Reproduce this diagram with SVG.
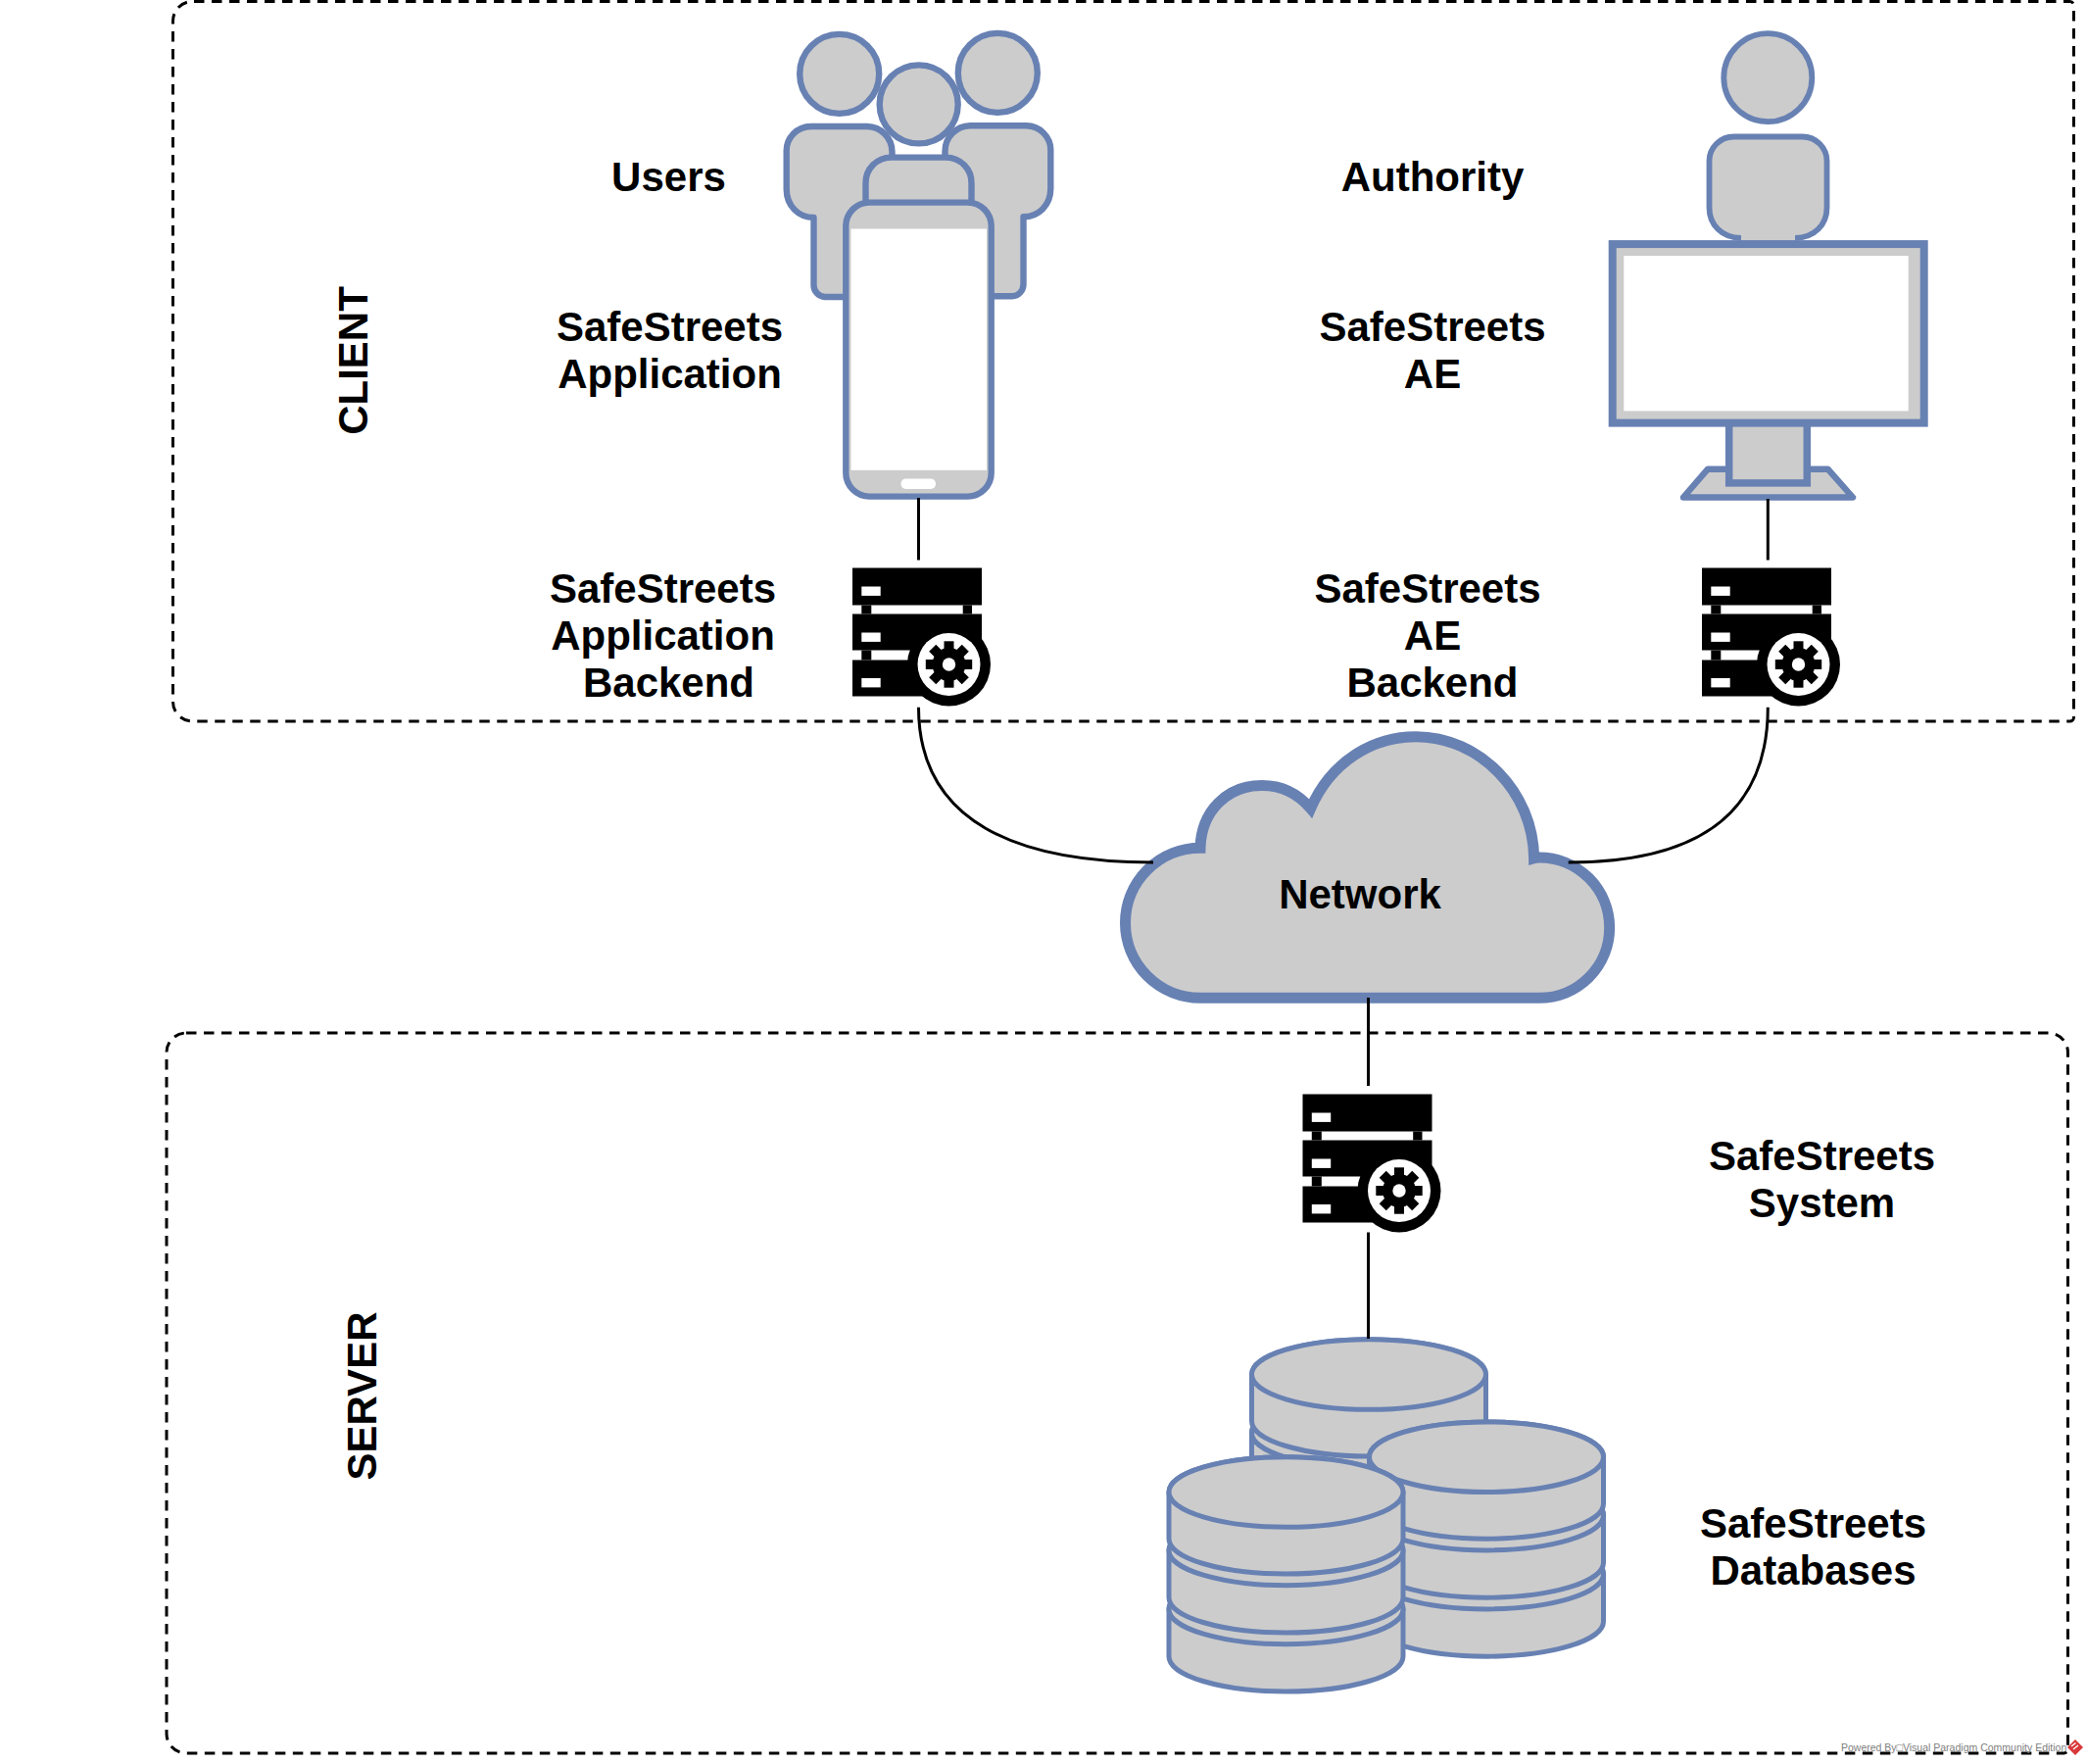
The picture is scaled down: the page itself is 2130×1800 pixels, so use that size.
<svg xmlns="http://www.w3.org/2000/svg" xmlns:xlink="http://www.w3.org/1999/xlink" width="2130" height="1800" viewBox="0 0 2130 1800">
<style>
text{font-family:"Liberation Sans",Arial,sans-serif;font-weight:bold;font-size:42px;fill:#000;text-anchor:middle}
.s{fill:#ccc;stroke:#6881b3;stroke-width:6.4;stroke-linejoin:round}
.m{fill:#ccc;stroke:#6881b3;stroke-linejoin:miter}
.d{fill:#ccc;stroke:#6881b3;stroke-width:5}
.w{fill:#fff}
.c{fill:none;stroke:#000;stroke-width:3}
.b{fill:none;stroke:#000;stroke-width:3;stroke-dasharray:10.5 7.5}
.wm{font-family:"Liberation Sans",Arial,sans-serif;font-weight:normal;font-size:10.5px;fill:#808080;text-anchor:start}
</style>
<defs>
<g id="srv">
<rect width="132" height="38"/><rect y="47" width="132" height="37"/><rect y="94" width="98" height="37"/>
<rect x="9.3" y="38" width="10" height="9"/><rect x="112.7" y="38" width="9.3" height="9"/><rect x="9.3" y="84" width="10" height="10"/>
<rect class="w" x="9.3" y="19" width="19.4" height="9.4"/><rect class="w" x="9.3" y="66" width="19.4" height="9.4"/><rect class="w" x="9.3" y="112.5" width="19.4" height="9.4"/>
<circle cx="98.5" cy="98.5" r="42.5"/><circle class="w" cx="98.5" cy="98.5" r="32"/>
<g transform="translate(98.5 98.5)">
<circle r="17"/>
<rect x="-5" y="-23.7" width="10" height="47.4"/>
<rect x="-5" y="-23.7" width="10" height="47.4" transform="rotate(45)"/>
<rect x="-5" y="-23.7" width="10" height="47.4" transform="rotate(90)"/>
<rect x="-5" y="-23.7" width="10" height="47.4" transform="rotate(135)"/>
<circle class="w" r="6.7"/>
</g>
</g>
<g id="db">
<path class="d" d="M-119.5 119.4A119.5 35.8 0 0 1 119.5 119.4V167.7A119.5 35.8 0 0 1 -119.5 167.7Z"/>
<ellipse class="d" cy="119.4" rx="119.5" ry="35.8"/>
<path class="d" d="M-119.5 59.4A119.5 35.8 0 0 1 119.5 59.4V107.7A119.5 35.8 0 0 1 -119.5 107.7Z"/>
<ellipse class="d" cy="59.4" rx="119.5" ry="35.8"/>
<path class="d" d="M-119.5 0A119.5 35.8 0 0 1 119.5 0V47.7A119.5 35.8 0 0 1 -119.5 47.7Z"/>
<ellipse class="d" rx="119.5" ry="35.8"/>
</g>
<path id="torso" class="s" d="M830.5 222C815 222 802.7 210 802.7 193V155A25 25 0 0 1 828 129H885A26 26 0 0 1 910.5 155V303H842A12 12 0 0 1 830.5 291Z"/>
</defs>

<g id="containers">
<path id="client" class="b" d="M198 1.5H2112.5A4 4 0 0 1 2116.5 5.5V732A4 4 0 0 1 2112.5 736H196.5A20 20 0 0 1 176.5 716V21.5A20 20 0 0 1 198 1.5Z"/>
<path id="server" class="b" d="M190 1054H2090.5A20 20 0 0 1 2110.5 1074V1785A4 4 0 0 1 2106.5 1789H190A20 20 0 0 1 170 1769V1074A20 20 0 0 1 190 1054Z"/>
</g>

<g id="users">
<use xlink:href="#torso" href="#torso"/>
<use xlink:href="#torso" href="#torso" transform="matrix(-1 0 0 1 1875 -0.7)"/>
<circle class="s" cx="856.7" cy="75.4" r="40.5"/>
<circle class="s" cx="1018.3" cy="74.4" r="40.5"/>
<path class="s" d="M883.5 212V187A26 26 0 0 1 909.5 160.6H965.5A26 26 0 0 1 991.5 187V212Z"/>
<circle class="s" cx="937.7" cy="106.4" r="40"/>
<text x="682.5" y="195">Users</text>
</g>

<g id="phone">
<rect class="s" x="863.3" y="206.6" width="148.4" height="300" rx="24"/>
<rect class="w" x="868.5" y="233.5" width="138.5" height="246.3"/>
<rect class="w" x="919.5" y="488.6" width="35.5" height="10.4" rx="5"/>
<text x="683.5" y="348">SafeStreets</text>
<text x="683.5" y="396">Application</text>
</g>

<g id="authority">
<circle class="s" cx="1804.3" cy="79.2" r="45" style="stroke-width:5.8"/>
<path d="M1777 242.8C1757 242.8 1744.5 229 1744.5 212V165A25 25 0 0 1 1770 139.5H1839A25 25 0 0 1 1864.5 165V212C1864.5 229 1852 242.8 1832 242.8V250H1777Z" fill="#ccc"/>
<path d="M1777 242.8C1757 242.8 1744.5 229 1744.5 212V165A25 25 0 0 1 1770 139.5H1839A25 25 0 0 1 1864.5 165V212C1864.5 229 1852 242.8 1832 242.8" fill="none" stroke="#6881b3" stroke-width="5.8"/>
<text x="1462" y="195">Authority</text>
</g>

<g id="monitor">
<path class="s" d="M1718 507.5L1743 478.7H1865.5L1891 507.5Z"/>
<rect class="m" style="stroke-width:7.5" x="1764.7" y="430.4" width="79.6" height="62.5"/>
<rect class="m" style="stroke-width:8" x="1645.7" y="249.1" width="318" height="182.5"/>
<rect class="w" x="1657.3" y="261" width="290.4" height="158.4"/>
<text x="1462" y="348">SafeStreets</text>
<text x="1462" y="396">AE</text>
</g>

<g id="app-backend">
<use href="#srv" xlink:href="#srv" x="870" y="579.5"/>
<text x="676.5" y="615">SafeStreets</text>
<text x="676.5" y="663">Application</text>
<text x="682.5" y="711">Backend</text>
</g>

<g id="ae-backend">
<use href="#srv" xlink:href="#srv" x="1737" y="579.5"/>
<text x="1457" y="615">SafeStreets</text>
<text x="1462" y="663">AE</text>
<text x="1462" y="711">Backend</text>
</g>

<g id="network">
<path class="m" style="stroke-width:11" d="M1225 1018.3A76.5 76.5 0 0 1 1225 865.3C1226 828 1252 801.5 1288 801.5C1308 801.5 1325 810 1337.6 825C1358 778 1400 751.7 1445 751.7C1510 751.7 1565 808 1565.6 875.7Q1568 875 1571 875A71.5 71.5 0 0 1 1571 1018.3Z"/>
<text x="1388" y="927">Network</text>
</g>

<g id="system">
<use href="#srv" xlink:href="#srv" x="1329.5" y="1116.5"/>
<text x="1859.5" y="1193.5">SafeStreets</text>
<text x="1859.5" y="1241.5">System</text>
</g>

<g id="databases">
<use href="#db" xlink:href="#db" x="1397" y="1402.5"/>
<use href="#db" xlink:href="#db" x="1517" y="1486.7"/>
<use href="#db" xlink:href="#db" x="1312.5" y="1522.5"/>
<text x="1850.5" y="1568.5">SafeStreets</text>
<text x="1850.5" y="1616.5">Databases</text>
</g>

<g id="labels">
<text transform="translate(375 368) rotate(-90)">CLIENT</text>
<text transform="translate(384 1424.5) rotate(-90)">SERVER</text>
</g>

<g id="connectors">
<path class="c" d="M937.5 508V571.5"/>
<path class="c" d="M1804.3 509V571.5"/>
<path class="c" d="M937.5 721.7C937.5 840 1040 880 1177 880"/>
<path class="c" d="M1804.3 721.7C1804.3 840 1720 880 1600.7 880"/>
<path class="c" d="M1396.5 1018V1108"/>
<path class="c" d="M1396.5 1257.5V1366"/>
</g>

<g id="watermark">
<text class="wm" x="1879" y="1786.5">Powered By□Visual Paradigm Community Edition</text>
<path d="M2118 1775L2126 1783L2118 1791L2110 1783Z" fill="#d8383a"/>
<path d="M2114 1782L2118.5 1778.5M2116 1785L2121 1781" stroke="#fff" stroke-width="1.3" fill="none"/>
</g>
</svg>
